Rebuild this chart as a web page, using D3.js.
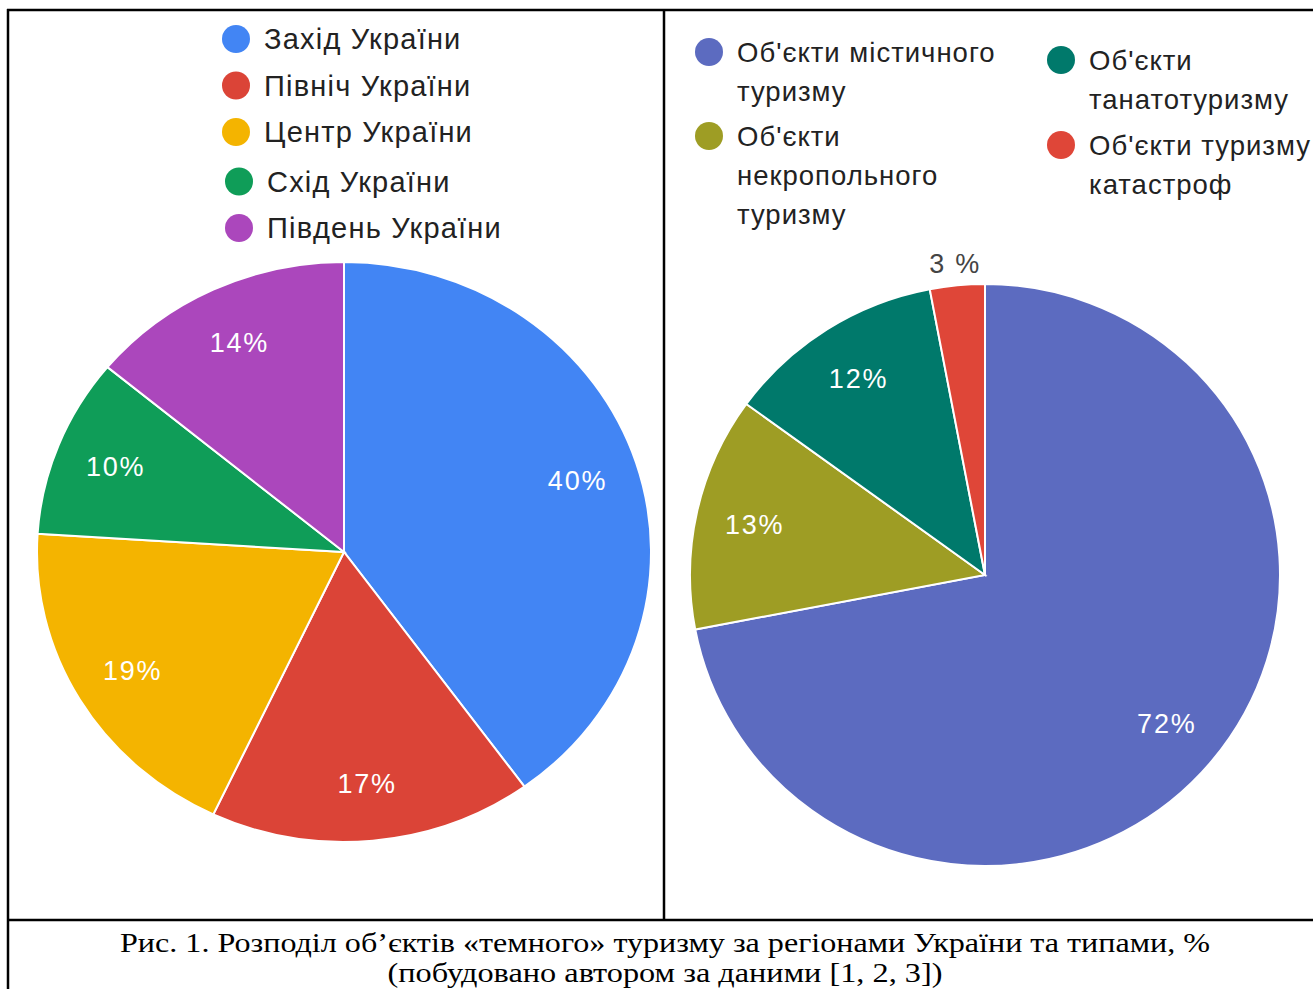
<!DOCTYPE html>
<html>
<head>
<meta charset="utf-8">
<script src="https://cdn.jsdelivr.net/npm/d3@7"></script>
<style>
    html, body { margin: 0; padding: 0; background: #fff; }
    svg { display: block; }
</style>
</head>
<body>
<svg id="chart" width="1313" height="989"></svg>
<script>
// left pie: regions of Ukraine
var regionNames = ["Захід України", "Північ України", "Центр України", "Схід України", "Південь України"];
var regionValues = [40, 17, 19, 10, 14];
var regionColors = ["#4285f4", "#db4437", "#f4b400", "#0f9d58", "#ab47bc"];

// right pie: types of objects
var typeNames = [["Об'єкти містичного", "туризму"], ["Об'єкти", "некропольного", "туризму"], ["Об'єкти", "танатотуризму"], ["Об'єкти туризму", "катастроф"]];
var typeValues = [72, 13, 12, 3];
var typeLabels = ["72%", "13%", "12%", "3 %"];
var typeColors = ["#5c6bc0", "#9e9d24", "#00796b", "#df4638"];

var captionLines = ["Рис. 1. Розподіл об’єктів «темного» туризму за регіонами України та типами, %", "(побудовано автором за даними [1, 2, 3])"];
var captionWidths = [1090, 555];

var svg = d3.select("#chart");
var sansFont = "'Liberation Sans', Arial, sans-serif";

function drawPie(values, colors, labels, cx, cy, rx, ry, labelFraction, outsideIndex) {
    var ratio = ry / rx;
    var pie = d3.pie().sort(null).value(function (d) { return d; });
    var arcs = pie(values);
    var arc = d3.arc().innerRadius(0).outerRadius(rx);
    var labelArc = d3.arc().innerRadius(rx * labelFraction).outerRadius(rx * labelFraction);
    var outerArc = d3.arc().innerRadius(rx * 1.075).outerRadius(rx * 1.075);

    var g = svg.append("g").attr("transform", "translate(" + cx + "," + cy + ")");

    g.append("g")
            .attr("transform", "scale(1," + ratio + ")")
            .selectAll("path")
            .data(arcs)
            .enter().append("path")
            .attr("d", arc)
            .attr("fill", function (d, i) { return colors[i]; })
            .attr("stroke", "#fff")
            .attr("stroke-width", 2)
            .attr("vector-effect", "non-scaling-stroke");

    g.selectAll("text")
            .data(arcs)
            .enter().append("text")
            .attr("x", function (d, i) {
                var c = (i === outsideIndex ? outerArc : labelArc).centroid(d);
                return c[0];
            })
            .attr("y", function (d, i) {
                var c = (i === outsideIndex ? outerArc : labelArc).centroid(d);
                return c[1] * ratio;
            })
            .attr("dy", "0.36em")
            .attr("text-anchor", "middle")
            .attr("font-family", sansFont)
            .attr("font-size", 27)
            .attr("letter-spacing", 1.8)
            .attr("fill", function (d, i) { return i === outsideIndex ? "#444" : "#fff"; })
            .text(function (d, i) { return labels[i]; });
}

// left pie
drawPie(regionValues, regionColors, regionValues.map(function (v) { return v + "%"; }),
        344, 552, 307, 290, 0.8, -1);

// right pie
drawPie(typeValues, typeColors, typeLabels, 985, 575, 295, 291, 0.8, 3);

// left legend
var leftLegend = svg.append("g");
var leftItems = leftLegend.selectAll("g")
        .data(regionNames)
        .enter().append("g")
        .attr("transform", function (d, i) { return "translate(" + (i > 2 ? 239 : 236) + "," + (39 + i * 46.5 + (i > 2 ? 3 : 0)) + ")"; });
leftItems.append("circle")
        .attr("r", 14)
        .attr("fill", function (d, i) { return regionColors[i]; });
leftItems.append("text")
        .attr("x", 28)
        .attr("dy", "0.36em")
        .attr("font-family", sansFont)
        .attr("font-size", 29)
        .attr("letter-spacing", 1.2)
        .attr("fill", "#222")
        .text(function (d) { return d; });

// right legend, two columns
var rightPos = [[709, 52], [709, 136], [1061, 60], [1061, 145]];
var rightItems = svg.append("g").selectAll("g")
        .data(typeNames)
        .enter().append("g")
        .attr("transform", function (d, i) { return "translate(" + rightPos[i][0] + "," + rightPos[i][1] + ")"; });
rightItems.append("circle")
        .attr("r", 14)
        .attr("fill", function (d, i) { return typeColors[i]; });
rightItems.selectAll("text")
        .data(function (d) { return d; })
        .enter().append("text")
        .attr("x", 28)
        .attr("y", function (d, j) { return j * 39; })
        .attr("dy", "0.36em")
        .attr("font-family", sansFont)
        .attr("font-size", 27.5)
        .attr("letter-spacing", 1)
        .attr("fill", "#222")
        .text(function (d) { return d; });

// table frame
var frame = [
    [7, 10, 1313, 10],
    [8, 9, 8, 989],
    [664, 10, 664, 920],
    [8, 920, 1313, 920]
];
svg.append("g").selectAll("line")
        .data(frame)
        .enter().append("line")
        .attr("x1", function (d) { return d[0]; })
        .attr("y1", function (d) { return d[1]; })
        .attr("x2", function (d) { return d[2]; })
        .attr("y2", function (d) { return d[3]; })
        .attr("stroke", "#000")
        .attr("stroke-width", 2.5);

// caption (stretched a bit wide, like the scan)
svg.append("g").selectAll("text")
        .data(captionLines)
        .enter().append("text")
        .attr("x", 665)
        .attr("y", function (d, i) { return 952 + i * 30; })
        .attr("text-anchor", "middle")
        .attr("textLength", function (d, i) { return captionWidths[i]; })
        .attr("lengthAdjust", "spacingAndGlyphs")
        .attr("font-family", "'Liberation Serif', 'Times New Roman', serif")
        .attr("font-size", 27)
        .attr("fill", "#000")
        .text(function (d) { return d; });
</script>
</body>
</html>
